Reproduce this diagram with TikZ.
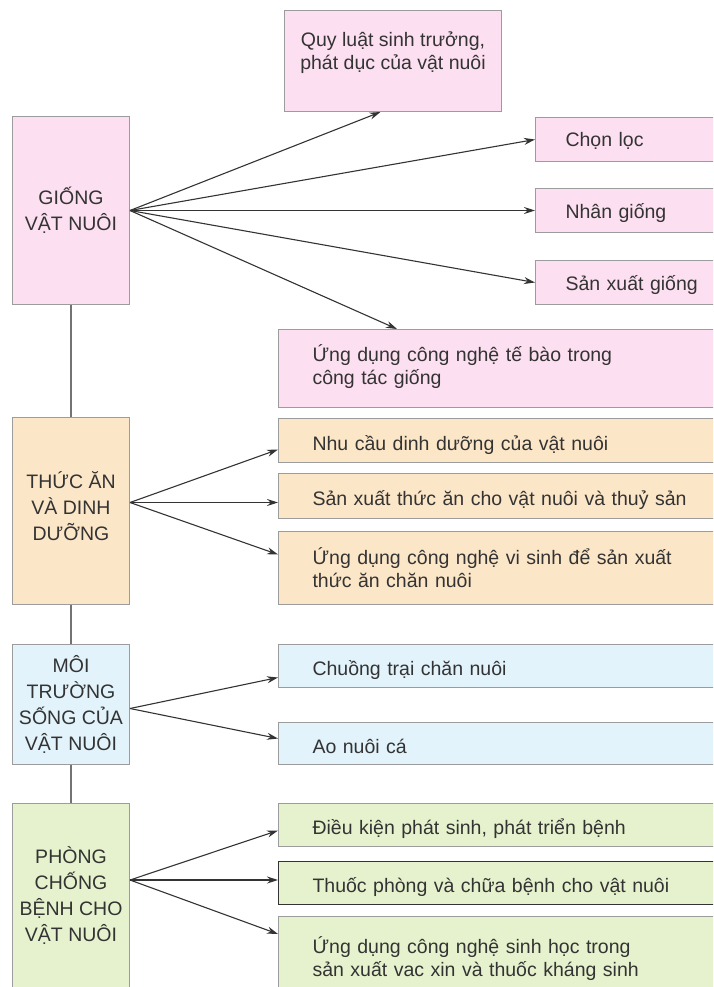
\documentclass[tikz,border=0pt]{standalone}
\usepackage{fontspec}
\setmainfont{Liberation Sans}
\usetikzlibrary{arrows.meta}

\definecolor{hongnhat}{HTML}{FCDFF0}
\definecolor{camnhat}{HTML}{FCE6C8}
\definecolor{xanhnhat}{HTML}{E2F3FB}
\definecolor{lanhat}{HTML}{E6F2CD}
\definecolor{vien}{HTML}{9C9C9C}
\definecolor{chu}{HTML}{333333}

\begin{document}
\begin{tikzpicture}[x=1pt,y=-1pt,
  hop/.style={draw=vien,line width=1pt,anchor=north west,inner sep=0pt,text=chu,
    font=\fontsize{19.5}{23}\selectfont},
  chinh/.style={hop,minimum width=117pt,minimum height=#1,align=center,
    font=\fontsize{19.5}{26}\selectfont},
  nhanh/.style={hop,minimum height=#1,align=left,inner xsep=34pt,text width=377pt},
  nhanhngan/.style={hop,minimum height=#1,align=left,inner xsep=30pt,text width=140pt},
  motdong/.style={text height=#1,text depth=5pt},
  mui/.style={draw=chu,line width=1.1pt,-{Stealth[length=11pt,width=7pt]}},
  noi/.style={draw=black!55,line width=1.4pt}]

\clip (0,0) rectangle (713,987);

% ---------- giống vật nuôi ----------
\node[chinh=188pt,fill=hongnhat] (giong) at (12,116) {GIỐNG\\VẬT NUÔI};
\node[hop,fill=hongnhat,minimum width=217pt,minimum height=101pt,align=center]
  (quyluat) at (284,10) {Quy luật sinh trưởng,\\phát dục của vật nuôi\\[-3pt]~};
\node[nhanhngan=44pt,motdong=20pt,fill=hongnhat] (chonloc) at (535,117) {Chọn lọc};
\node[nhanhngan=44pt,motdong=20pt,fill=hongnhat] (nhangiong) at (535,188) {Nhân giống};
\node[nhanhngan=44pt,motdong=21pt,fill=hongnhat] (sxgiong) at (535,260) {Sản xuất giống};
\node[nhanh=78pt,fill=hongnhat] (tebao) at (278,329)
  {Ứng dụng công nghệ tế bào trong\\công tác giống\\[-16pt]~};

\draw[mui] (giong.east) -- ([xshift=-12.5pt]quyluat.south);
\draw[mui] (giong.east) -- (chonloc.west);
\draw[mui] (giong.east) -- (nhangiong.west);
\draw[mui] (giong.east) -- (sxgiong.west);
\draw[mui] (giong.east) -- ([xshift=119pt]tebao.north west);

% ---------- thức ăn và dinh dưỡng ----------
\node[chinh=187pt,fill=camnhat] (thucan) at (12,417) {THỨC ĂN\\VÀ DINH\\DƯỠNG\\[-16pt]~};
\node[nhanh=44pt,motdong=24pt,fill=camnhat] (nhucau) at (278,418)
  {Nhu cầu dinh dưỡng của vật nuôi};
\node[nhanh=45pt,motdong=24pt,fill=camnhat] (sxthucan) at (278,473)
  {Sản xuất thức ăn cho vật nuôi và thuỷ sản};
\node[nhanh=73pt,fill=camnhat] (visinh) at (278,531)
  {Ứng dụng công nghệ vi sinh để sản xuất\\thức ăn chăn nuôi};

\draw[mui] ([yshift=8.5pt]thucan.east) -- ([yshift=-9pt]nhucau.west);
\draw[mui] ([yshift=8.5pt]thucan.east) -- ([yshift=8.5pt]thucan.east -| sxthucan.west);
\draw[mui] ([yshift=8.5pt]thucan.east) -- ([yshift=13.5pt]visinh.west);

% ---------- môi trường sống ----------
\node[chinh=120pt,fill=xanhnhat] (moitruong) at (12,644)
  {MÔI\\TRƯỜNG\\SỐNG CỦA\\VẬT NUÔI};
\node[nhanh=43pt,motdong=24pt,fill=xanhnhat] (chuong) at (278,644) {Chuồng trại chăn nuôi};
\node[nhanh=42pt,motdong=24pt,fill=xanhnhat] (aoca) at (278,722) {Ao nuôi cá};

\draw[mui] ([yshift=-4pt]moitruong.east) -- ([yshift=-11.5pt]chuong.west);
\draw[mui] ([yshift=-4pt]moitruong.east) -- ([yshift=5pt]aoca.west);

% ---------- phòng chống bệnh ----------
\node[chinh=200pt,fill=lanhat] (phongbenh) at (12,803)
  {PHÒNG\\CHỐNG\\BỆNH CHO\\VẬT NUÔI\\[-8pt]~};
\node[nhanh=43pt,motdong=24pt,fill=lanhat] (dieukien) at (278,803)
  {Điều kiện phát sinh, phát triển bệnh};
\node[nhanh=43pt,motdong=23pt,fill=lanhat,draw=chu] (thuoc) at (278,861)
  {Thuốc phòng và chữa bệnh cho vật nuôi};
\node[nhanh=90pt,fill=lanhat] (sinhhoc) at (278,916)
  {Ứng dụng công nghệ sinh học trong\\sản xuất vac xin và thuốc kháng sinh\\[-14pt]~};

\coordinate (gocpb) at (130,880);
\draw[mui] (gocpb) -- ([yshift=-5.5pt]dieukien.west);
\draw[mui] (gocpb) -- (gocpb -| thuoc.west);
\draw[mui] (gocpb) -- ([yshift=-18pt]sinhhoc.north west);

% đường nối các khối chính
\draw[noi] (giong.south) -- (thucan.north);
\draw[noi] (thucan.south) -- (moitruong.north);
\draw[noi] (moitruong.south) -- (phongbenh.north);
\end{tikzpicture}
\end{document}
